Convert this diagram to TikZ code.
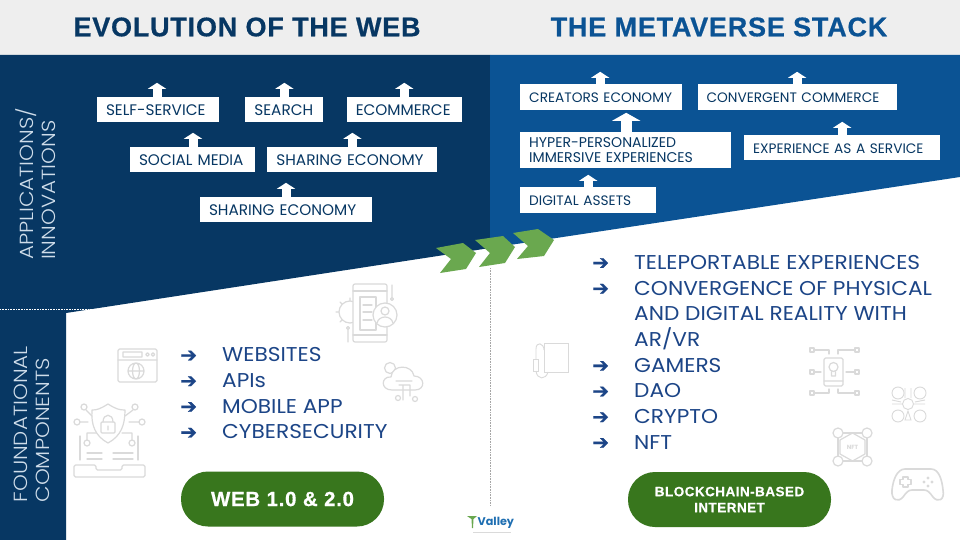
\documentclass[tikz,border=0pt]{standalone}
\usepackage{fontspec}
\setmainfont{Poppins}
\newfontfamily\headfont[LetterSpace=2.9, BoldFeatures={FakeBold=0.6}]{Liberation Sans}
\newfontfamily\pillfont[LetterSpace=3.4, BoldFeatures={FakeBold=0.5}]{Liberation Sans}
\newfontfamily\lightfont[FakeStretch=1.13]{Poppins Light}
\newfontfamily\listfont[FakeStretch=1.085]{Poppins}
\newfontfamily\glyphfont[BoldFeatures={FakeBold=0.8}]{DejaVu Sans}
\usepackage{tikz}
\usetikzlibrary{positioning, arrows.meta, shapes.geometric}

\definecolor{webnavy}{HTML}{073763}
\definecolor{stackblue}{HTML}{0B5394}
\definecolor{pagegrey}{HTML}{EEEEEE}
\definecolor{listblue}{HTML}{1C4587}
\definecolor{pillgreen}{HTML}{38761D}
\definecolor{chevgreen}{HTML}{6AA84F}
\definecolor{icongrey}{HTML}{DADADA}
\definecolor{sidetext}{HTML}{CFDDEA}
\definecolor{logoblue}{HTML}{1F6FB2}

\newcommand{\bulletarrow}{\makebox[42pt][l]{\glyphfont\fontsize{20}{25.7}\selectfont\bfseries ➔}}

\tikzset{
	appbox/.style={fill=white, text=webnavy, inner xsep=9pt, inner ysep=0pt, minimum height=25pt,
		align=left, text height=11.5pt, text depth=0pt, font=\fontsize{13.7}{14}\selectfont},
	widebox/.style={appbox, text height=12pt, font=\fontsize{15.3}{16}\selectfont},
	boxw/.style={minimum width=#1, text width=#1-18pt},
	uparrow/.style={draw=white, line width=9pt, -{Triangle[width=18pt,length=6pt]}},
	bigarrow/.style={draw=white, line width=11pt, -{Triangle[width=28pt,length=8pt]}},
	headtext/.style={font=\headfont\fontsize{27}{30}\selectfont\bfseries},
	sidelabel/.style={rotate=90, text=sidetext, anchor=west, align=left, font=\lightfont\fontsize{19}{22}\selectfont},
	listtext/.style={anchor=north west, inner sep=0pt, text=listblue, align=left, font=\listfont\fontsize{20}{25.7}\selectfont},
	pill/.style={fill=pillgreen, text=white, rounded corners=27pt, minimum width=203pt, minimum height=55pt, align=center},
	chevron/.style={fill=chevgreen},
	iconline/.style={draw=icongrey, line width=1.2pt, line join=round, line cap=round},
}

\begin{document}
\begin{tikzpicture}[x=1pt, y=-1pt]
	\useasboundingbox (0,0) rectangle (960,540);
	% backgrounds
	\fill[white] (0,0) rectangle (960,540);
	\fill[pagegrey] (0,0) rectangle (960,55);
	\fill[webnavy] (0,55) -- (490,55) -- (490,248) -- (66,313) -- (66,540) -- (0,540) -- cycle;
	\fill[stackblue] (490,55) -- (960,55) -- (960,177) -- (490,248) -- cycle;
	\draw[white, densely dotted, line width=.6pt] (0,309.5) -- (92,309.5);
	\draw[gray!70, densely dotted, line width=.6pt] (490.5,268) -- (490.5,505);

	\node[headtext, text=webnavy] (webtitle) at (247,27) {EVOLUTION OF THE WEB};
	\node[headtext, text=stackblue] (stacktitle) at (719,27) {THE METAVERSE STACK};

	\node[sidelabel] (applabel) at (36,263.5) {APPLICATIONS/\\INNOVATIONS};
	\node[sidelabel] (foundlabel) at (32,506) {FOUNDATIONAL\\COMPONENTS};

	% left stack
	\node[widebox, boxw=122pt] (selfservice) at (158,109.5) {SELF-SERVICE};
	\node[widebox, boxw=78pt, right=26pt of selfservice] (search) {SEARCH};
	\node[widebox, boxw=115pt, right=23pt of search] (ecommerce) {ECOMMERCE};
	\node[widebox, boxw=125pt] (socialmedia) at (192.5,159.5) {SOCIAL MEDIA};
	\node[widebox, boxw=170pt, right=12pt of socialmedia] (sharing) {SHARING ECONOMY};
	\node[widebox, boxw=172pt] (sharingbase) at (286,209.5) {SHARING ECONOMY};

	\draw[uparrow] (selfservice.north) ++(-1,0) -- ++(0,-14);
	\draw[uparrow] (search.north) ++(0,0) -- ++(0,-14);
	\draw[uparrow] (ecommerce.north) -- ++(0,-14);
	\draw[uparrow] (socialmedia.north) ++(0.5,0) -- ++(0,-14);
	\draw[uparrow] (sharing.north) -- ++(0,-14);
	\draw[uparrow] (sharingbase.north) -- ++(0,-14);

	% right stack
	\node[appbox, anchor=west, boxw=162pt, minimum height=26pt] (creators) at (520,97) {CREATORS ECONOMY};
	\node[appbox, boxw=199pt, minimum height=26pt, right=15pt of creators] (commerce) {CONVERGENT COMMERCE};
	\node[appbox, anchor=west, boxw=211pt, minimum height=36pt, text height=, text depth=, font=\fontsize{14.1}{14.2}\selectfont] (immersive) at (520,150) {HYPER-PERSONALIZED\\IMMERSIVE EXPERIENCES};
	\node[appbox, anchor=west, boxw=196pt] (service) at (744,147.5) {EXPERIENCE AS A SERVICE};
	\node[appbox, anchor=west, boxw=136pt, minimum height=26pt] (assets) at (520,200) {DIGITAL ASSETS};

	\draw[uparrow] (creators.north) ++(-1,0) -- ++(0,-12);
	\draw[uparrow] (commerce.north) -- ++(0,-12);
	\draw[bigarrow] (immersive.north) ++(0.5,0) -- ++(0,-19);
	\draw[uparrow] (service.north) -- ++(0,-13);
	\draw[uparrow] (assets.north) -- ++(0,-12);

	% chevrons
	\fill[chevron] (436,248) -- (463,243) -- (476,253) -- (466,269) -- (440,273) -- (451,259) -- cycle;
	\fill[chevron] (475,240) -- (503,236) -- (515,247) -- (505,263) -- (479,267) -- (490,253) -- cycle;
	\fill[chevron] (513,233) -- (538,229) -- (554,240) -- (544,256) -- (517,259) -- (528,246) -- cycle;

	% bullet lists
	\node[listtext] (weblist) at (180,347.5) {\bulletarrow WEBSITES\\\bulletarrow APIs\\\bulletarrow MOBILE APP\\\bulletarrow CYBERSECURITY};
	\node[listtext] (stacklist) at (592,255) {\bulletarrow TELEPORTABLE EXPERIENCES\\\bulletarrow CONVERGENCE OF PHYSICAL\\\hspace*{42pt}AND DIGITAL REALITY WITH\\\hspace*{42pt}AR/VR\\\bulletarrow GAMERS\\\bulletarrow DAO\\\bulletarrow CRYPTO\\\bulletarrow NFT};

	\node[pill, font=\pillfont\fontsize{20.5}{21}\selectfont\bfseries] (webpill) at (282.5,499) {WEB 1.0 \& 2.0};
	\node[pill, font=\pillfont\fontsize{13.5}{16}\selectfont\bfseries] (chainpill) at (729.5,499.5) {BLOCKCHAIN-BASED\\INTERNET};

	% phone icon
	\draw[iconline] (350,312) circle (11) (339,312) -- (336,312) (350,301) -- (350,298) (342,304) -- (340,302) (342,320) -- (340,322);
	\draw[iconline, fill=white, rounded corners=2pt] (353,284) rectangle (387,342);
	\draw[iconline] (353,335) -- (387,335) (353,291) -- (387,291) (360,297) rectangle (376,330) (363,305) -- (372,305) (363,312) -- (372,312) (363,320) -- (372,320);
	\draw[iconline, fill=white] (385,315) circle (12);
	\draw[iconline] (385,311) circle (4) (377,323) .. controls (379,315) and (391,315) .. (393,323);
	\draw[iconline] (392,285) -- (392,297) (392,299) circle (1.5) (348,330) -- (348,342) (348,328) circle (1.5);
	% cloud icon
	\draw[iconline] (390,368) circle (5.5);
	\draw[iconline, fill=white] (392,390) .. controls (380,390) and (381,376) .. (391,377) .. controls (392,364) and (412,364) .. (414,376) .. controls (425,376) and (426,390) .. (415,390) -- cycle;
	\draw[iconline] (396,381) -- (412,381) (399,385) -- (410,385) (403,385) -- (403,400) (410,385) -- (410,396) (398,398) circle (2.5) (415,399) circle (2.5);
	% browser icon
	\draw[iconline, rounded corners=1.5pt] (118,349) rectangle (157,382);
	\draw[iconline] (118,360) -- (157,360) (123,352) rectangle (142,357) (147.5,354.5) circle (1.7) (153,354.5) circle (1.7);
	\draw[iconline] (136,371) circle (8) (136,371) ellipse (3.5 and 8) (128,371) -- (144,371);
	% shield icon
	\draw[iconline] (108,404) .. controls (100,409) and (97,410) .. (92,410) .. controls (91,425) and (95,436) .. (108,443) .. controls (121,436) and (125,425) .. (125,410) .. controls (119,410) and (116,409) .. (108,404) -- cycle;
	\draw[iconline, rounded corners=1pt] (101,422) rectangle (115,433);
	\draw[iconline] (103,422) .. controls (103,413) and (113,413) .. (113,422) (108,426) -- (108,430);
	\draw[iconline] (84,407) circle (3) (135,407) circle (3) (77,422) circle (3) (142,422) circle (3) (87,443) circle (3) (132,443) circle (3);
	\draw[iconline] (86,410) -- (92,416) (133,410) -- (125,416) (80,422) -- (88,422) (139,422) -- (129,422) (87,440) -- (87,433) -- (96,433) (132,440) -- (132,433) -- (122,433);
	\draw[iconline] (80,436) -- (80,460) (138,436) -- (138,460) (87,453) -- (102,453) (113,453) -- (133,453) (87,459) -- (102,459) (113,459) -- (133,459);
	\draw[iconline, rounded corners=1.5pt] (74,465) -- (96,465) -- (96,470) -- (122,470) -- (122,465) -- (145,465) -- (145,477) -- (74,477) -- cycle;
	% power bank icon
	\draw[icongrey, line width=.9pt] (544,343) rectangle (568,372);
	\draw[icongrey, line width=.9pt] (533,359) rectangle (538,371);
	\draw[icongrey, line width=.9pt] (536,359) -- (536,349) .. controls (536,341) and (544,343) .. (544,350) (536,371) .. controls (537,380) and (546,380) .. (548,372);
	% bulb icon
	\draw[iconline, rounded corners=1.5pt] (824,358) rectangle (843,386);
	\draw[iconline] (833.5,367) circle (4.5) (831.5,372) -- (831.5,376) -- (835.5,376) -- (835.5,372) (824,381) -- (843,381);
	\draw[iconline] (810,348) rectangle (814,352) (855,348) rectangle (859,352) (810,370) rectangle (814,374) (855,370) rectangle (859,374) (810,391) rectangle (814,395) (855,391) rectangle (859,395);
	\draw[iconline] (814,350) -- (829,350) -- (829,354) (855,350) -- (838,350) -- (838,354) (814,372) -- (821,372) (855,372) -- (846,372) (814,393) -- (829,393) -- (829,389) (855,393) -- (838,393) -- (838,389);
	% coins icon
	\draw[icongrey, line width=.9pt] (908,404) circle (5.5) (898,393) circle (6) (920,393) circle (6) (898,416) circle (6) (920,416) circle (6);
	\draw[icongrey, line width=.9pt] (905,388) -- (905,398) (911,388) -- (911,398) (905,420) -- (911,420) -- (908,411) -- cycle (892,404) -- (902,404) (914,404) -- (925,404) (892,400) -- (901,402) (925,400) -- (915,402);
	% nft icon
	\draw[iconline] (838,433) rectangle (867,461);
	\draw[iconline, fill=white] (852.5,433) -- (865,440) -- (865,454) -- (852.5,461) -- (840,454) -- (840,440) -- cycle;
	\draw[iconline, fill=white] (838,433) circle (5) (867,433) circle (5) (838,461) circle (5) (867,461) circle (5);
	\node[text=icongrey, inner sep=0pt, font=\fontsize{6}{6}\selectfont\bfseries] (nftmark) at (852.5,447) {NFT};
	% gamepad icon
	\draw[icongrey, line width=1.6pt, line join=round] (905,469) .. controls (897,469) and (893,480) .. (892,490) .. controls (891,500) and (898,503) .. (903,497) .. controls (906,493) and (908,490) .. (912,490) -- (924,490) .. controls (928,490) and (930,493) .. (933,497) .. controls (938,503) and (945,500) .. (943,490) .. controls (942,480) and (939,469) .. (931,469) -- cycle;
	\draw[iconline] (903,477) -- (908,477) -- (908,479.5) -- (911,479.5) -- (911,484.5) -- (908,484.5) -- (908,487) -- (903,487) -- (903,484.5) -- (900,484.5) -- (900,479.5) -- (903,479.5) -- cycle;
	\fill[icongrey] (928,478) circle (1.6) (928,486) circle (1.6) (924,482) circle (1.6) (932,482) circle (1.6);

	% logo
	\fill[chevgreen] (467,516) -- (477,516) -- (473.5,519) -- (473,528) -- (472,528) -- (471.5,519) -- cycle;
	\node[text=logoblue, inner sep=0pt, anchor=west, font=\fontsize{11.2}{12}\selectfont\bfseries] (logotext) at (477.5,523) {Valley};
	\draw[icongrey, line width=.8pt] (473,532.5) -- (511,532.5);
\end{tikzpicture}
\end{document}
